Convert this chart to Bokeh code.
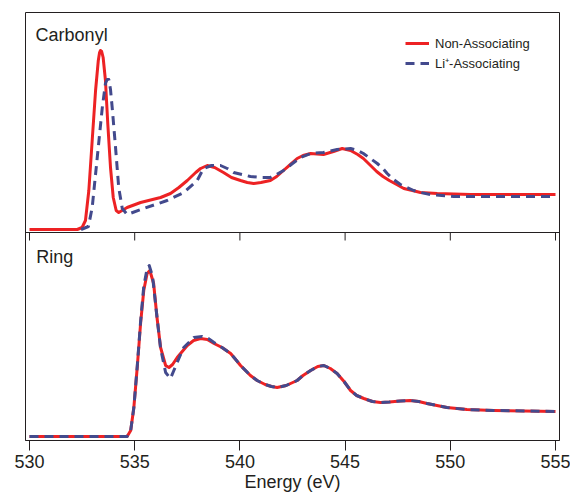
from bokeh.plotting import figure
from bokeh.models import Range1d, Span, Label, Legend, LegendItem, FixedTicker
from bokeh.embed import file_html
from bokeh.resources import INLINE

# ---- data (energy in eV, intensity in arbitrary units) ----
ticks = [530, 535, 540, 545, 550, 555]

carbonyl_non_e = [530.0, 532.27, 532.50, 532.66, 532.82, 532.98, 533.14, 533.27, 533.33, 533.37,
                  533.43, 533.50, 533.61, 533.72, 533.85, 533.98, 534.12, 534.24, 534.64, 535.28,
                  536.23, 536.70, 537.10, 537.50, 537.90, 538.13, 538.45, 538.80, 539.22, 539.60,
                  540.03, 540.35, 540.65, 541.00, 541.45, 541.75, 542.07, 542.40, 542.72, 543.00,
                  543.36, 543.97, 544.45, 544.86, 545.26, 545.60, 545.87, 546.21, 546.50, 546.80,
                  547.10, 547.45, 547.79, 548.20, 548.58, 549.38, 550.96, 555.0]
carbonyl_non = [0, 0, 2, 9, 39, 89, 139, 169, 177, 179,
                178, 172, 149, 106, 62, 32, 19, 17, 22, 27,
                32, 36, 42, 49, 57, 61, 64, 62, 57, 52,
                49, 47, 46, 47, 49, 53, 59, 65, 71, 74,
                76, 75, 78, 81, 79, 75, 71, 64, 58, 53,
                49, 45, 41, 39, 37, 36, 35, 35]

carbonyl_li_e = [532.45, 532.80, 532.98, 533.22, 533.46, 533.61, 533.69, 533.77, 533.85, 533.93,
                 534.09, 534.24, 534.41, 534.64, 535.43, 536.54, 537.33, 537.97, 538.27, 538.65,
                 539.08, 539.40, 539.70, 540.10, 540.50, 541.00, 541.45, 541.75, 542.07, 542.50,
                 542.88, 543.36, 543.97, 544.62, 545.26, 545.60, 545.87, 546.20, 546.53, 546.80,
                 547.00, 547.30, 547.63, 547.95, 548.26, 548.60, 549.06, 549.60, 550.17, 555.0]
carbonyl_li = [0, 3, 22, 72, 122, 146, 150, 150, 140, 122,
               82, 42, 21, 15, 21, 29, 37, 49, 61, 64,
               64, 61, 57, 55, 53, 52, 52, 55, 59, 66,
               72, 76, 77, 80, 81, 79, 76, 71, 66, 61,
               56, 50, 45, 42, 39, 37, 35, 34, 33, 33]

ring_non_e = [530.0, 534.64, 534.81, 534.96, 535.12, 535.28, 535.43, 535.59, 535.72, 535.90,
              536.06, 536.23, 536.47, 536.63, 536.80, 537.02, 537.50, 537.80, 538.13, 538.45,
              538.77, 539.15, 539.56, 539.80, 540.03, 540.50, 540.82, 541.20, 541.50, 541.77,
              542.20, 542.72, 543.00, 543.36, 543.70, 543.99, 544.30, 544.62, 544.95, 545.26,
              545.55, 545.89, 546.30, 546.68, 547.10, 547.63, 548.10, 548.50, 548.89, 549.84,
              550.79, 552.06, 555.0]
ring_non = [0, 0, 6, 29, 69, 113, 146, 163, 166, 153,
            119, 89, 71, 69, 72, 79, 91, 96, 98, 97,
            93, 89, 83, 77, 71, 61, 56, 52, 50, 49,
            51, 56, 61, 66, 70, 71, 68, 63, 55, 46,
            41, 38, 35, 34, 34.5, 35.5, 36, 35, 33, 29,
            27, 26, 25]

ring_li_e = [530.0, 534.64, 534.81, 534.96, 535.12, 535.28, 535.43, 535.59, 535.69, 535.85,
             536.03, 536.23, 536.47, 536.70, 536.86, 537.10, 537.33, 537.81, 538.21, 538.50,
             538.77, 539.15, 539.56, 539.80, 540.03, 540.50, 540.82, 541.20, 541.50, 541.77,
             542.20, 542.72, 543.00, 543.36, 543.70, 543.99, 544.30, 544.62, 544.95, 545.26,
             545.55, 545.89, 546.30, 546.68, 547.10, 547.63, 548.10, 548.50, 548.89, 549.84,
             550.79, 552.06, 555.0]
ring_li = [0, 0, 6, 29, 70, 115, 150, 168, 171, 160,
           125, 88, 64, 58, 66, 78, 89, 99, 100, 98,
           94, 89, 83, 77, 71, 61, 56, 52, 50, 49,
           51, 56, 61, 66, 70, 71, 68, 63, 55, 46,
           41, 38, 35, 34, 34.5, 35.5, 36, 35, 33, 29,
           27, 26, 25]

labels = ["Non-Associating", "Li\u207a-Associating"]

# ---- style ----
RED = "#ed2224"
BLUE = "#434a8d"
INK = "#231f20"
FONT = "Liberation Sans"

p = figure(width=570, height=497,
           x_range=Range1d(529.81, 555.19), y_range=Range1d(-4, 424),
           output_backend="svg", toolbar_location=None,
           min_border_top=12, min_border_left=25, min_border_right=11, min_border_bottom=57,
           y_axis_location=None)
p.extra_y_ranges = {"top": Range1d(-211, 217)}
p.grid.visible = False
p.outline_line_color = INK
p.outline_line_width = 1
p.background_fill_color = "white"
p.border_fill_color = "white"

ax = p.xaxis[0]
ax.ticker = FixedTicker(ticks=ticks)
ax.minor_tick_line_color = None
ax.major_tick_out = 10
ax.major_tick_in = 0
ax.major_tick_line_color = INK
ax.axis_line_color = INK
ax.major_label_text_font = FONT
ax.major_label_text_font_size = "18px"
ax.major_label_text_color = INK
ax.major_label_standoff = 4
ax.axis_label = "Energy (eV)"
ax.axis_label_text_font = FONT
ax.axis_label_text_font_size = "18px"
ax.axis_label_text_font_style = "normal"
ax.axis_label_text_color = INK
ax.axis_label_standoff = 1

# separator between panels, with inward ticks
p.add_layout(Span(location=204, dimension="width", line_color=INK, line_width=1))
p.segment(x0=ticks, y0=[204] * len(ticks), x1=ticks, y1=[196] * len(ticks),
          line_color=INK, line_width=1)

# bottom panel: Ring
p.line(ring_non_e, ring_non, line_color=RED, line_width=3, line_join="round")
p.line(ring_li_e, ring_li, line_color=BLUE, line_width=3, line_dash="9 6", line_join="round")

# top panel: Carbonyl
r_red = p.line(carbonyl_non_e, carbonyl_non, line_color=RED, line_width=3,
               line_join="round", y_range_name="top")
r_blue = p.line(carbonyl_li_e, carbonyl_li, line_color=BLUE, line_width=3,
                line_dash="9 6", line_join="round", y_range_name="top")

p.add_layout(Label(x=530.29, y=195, y_range_name="top", text="Carbonyl",
                   text_font=FONT, text_font_size="18px", text_color=INK,
                   text_baseline="alphabetic"))
p.add_layout(Label(x=530.32, y=180, text="Ring",
                   text_font=FONT, text_font_size="18px", text_color=INK,
                   text_baseline="alphabetic"))

legend = Legend(items=[LegendItem(label=labels[0], renderers=[r_red]),
                       LegendItem(label=labels[1], renderers=[r_blue])],
                location=(380, 367), padding=0, margin=0, spacing=0,
                glyph_width=24, glyph_height=20, label_height=20, label_standoff=6,
                label_text_font=FONT, label_text_font_size="13px", label_text_color=INK,
                border_line_color=None, background_fill_alpha=0)
p.add_layout(legend)

open("out.html", "w").write(file_html(p, INLINE))
